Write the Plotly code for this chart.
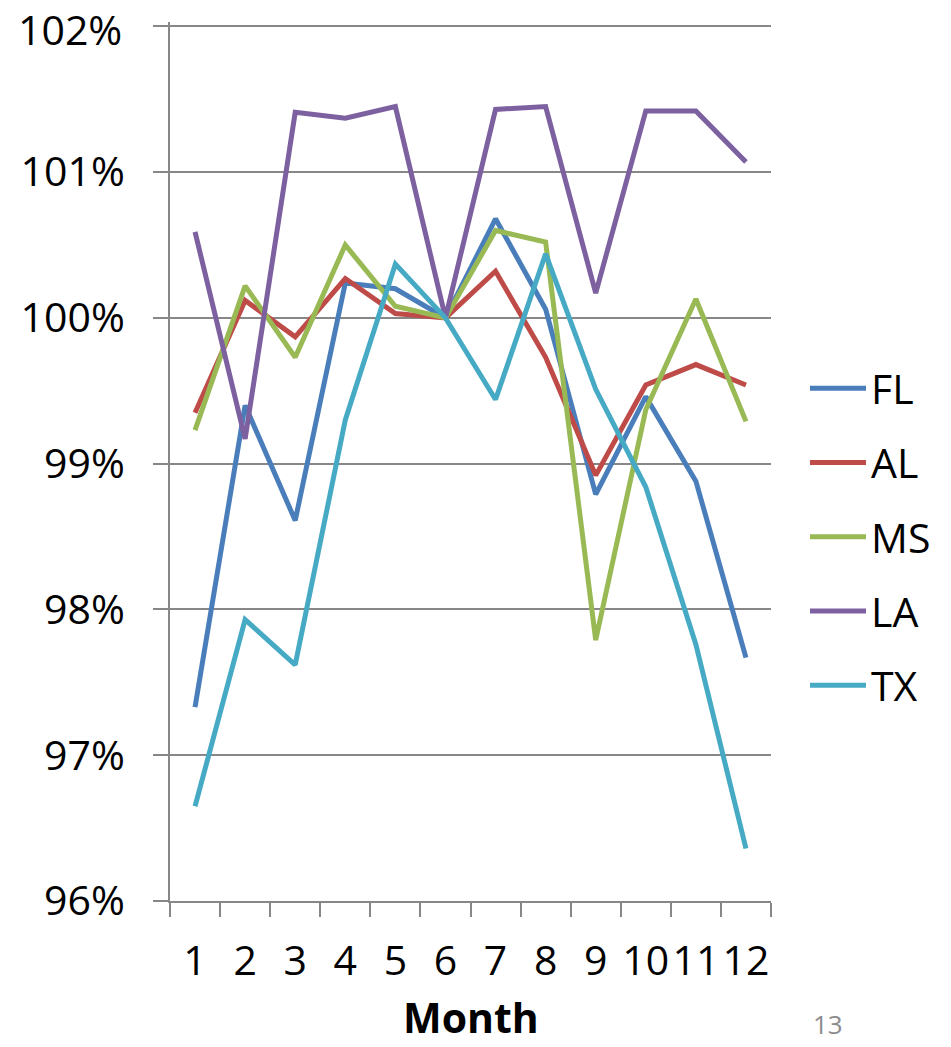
import plotly.graph_objects as go

months = ["1", "2", "3", "4", "5", "6", "7", "8", "9", "10", "11", "12"]
FL = [97.33, 99.40, 98.61, 100.24, 100.20, 100.00, 100.68, 100.06, 98.79, 99.46, 98.88, 97.67]
AL = [99.35, 100.12, 99.87, 100.27, 100.03, 100.00, 100.32, 99.73, 98.92, 99.54, 99.68, 99.54]
MS = [99.23, 100.22, 99.73, 100.50, 100.08, 100.00, 100.60, 100.52, 97.79, 99.37, 100.13, 99.29]
LA = [100.59, 99.17, 101.41, 101.37, 101.45, 100.00, 101.43, 101.45, 100.17, 101.42, 101.42, 101.07]
TX = [96.65, 97.93, 97.62, 99.30, 100.37, 100.00, 99.44, 100.44, 99.51, 98.84, 97.76, 96.36]
y_ticks = [96, 97, 98, 99, 100, 101, 102]
y_labels = ["96%", "97%", "98%", "99%", "100%", "101%", "102%"]

series = [("FL", FL, "#4A7EBB"), ("AL", AL, "#BE4B48"), ("MS", MS, "#98B954"),
          ("LA", LA, "#7D60A0"), ("TX", TX, "#46AAC5")]

FONT = "Open Sans"
GRID = "#878787"

W, H = 951, 1047
pad = 0.03
# target plot area in page pixels: x 170..771, y(102%)=26.7, y(96%)=900.5
px_per = (900.5 - 26.7) / 6
L = 170
R = W - 771
T = int(round(26.7 - pad * px_per))
B = int(round(H - 900.5))
plot_w = W - L - R
plot_h = H - T - B


def px_x(x):
    return (x - L) / plot_w


def px_y(y):
    return (H - B - y) / plot_h


fig = go.Figure()
for name, vals, color in series:
    fig.add_trace(go.Scatter(x=months, y=vals, name=name, mode="lines",
                             legendgroup=name,
                             line=dict(color=color, width=5)))

fig.update_layout(
    width=W, height=H,
    margin=dict(l=L, r=R, t=T, b=B, autoexpand=False),
    paper_bgcolor="white", plot_bgcolor="white",
    font=dict(family=FONT, size=41, color="black"),
    showlegend=True,
    legend=dict(x=px_x(805), xanchor="left",
                y=px_y(537), yanchor="middle",
                font=dict(size=41, family=FONT), itemwidth=56,
                tracegroupgap=18, bgcolor="rgba(0,0,0,0)"),
    xaxis=dict(type="category", range=[-0.5, 11.5], tickson="boundaries",
               ticks="outside", ticklen=14, tickwidth=2, tickcolor=GRID,
               showline=True, linecolor=GRID, linewidth=2,
               showgrid=False, zeroline=False, tickangle=0, automargin=False,
               tickfont=dict(size=41, family=FONT), ticklabelstandoff=23,
               ticklabeloverflow="allow"),
    # the top label (102%) is placed as an annotation nudged inside the page
    yaxis=dict(range=[96, 102 + pad], tickvals=y_ticks,
               ticktext=y_labels[:-1] + [""],
               ticks="outside", ticklen=15, tickwidth=2, tickcolor=GRID,
               showline=True, linecolor=GRID, linewidth=2, automargin=False,
               showgrid=True, gridcolor=GRID, gridwidth=2, zeroline=False,
               ticklabeloverflow="allow",
               tickfont=dict(size=41, family=FONT), ticklabelstandoff=20),
    annotations=[
        dict(text=y_labels[-1], x=px_x(124), y=px_y(29), xref="paper", yref="paper",
             showarrow=False, xanchor="right", yanchor="middle",
             font=dict(size=41, family=FONT, color="black")),
        dict(text="<b>Month</b>", x=px_x(470.5), y=px_y(1017), xref="paper", yref="paper",
             showarrow=False, xanchor="center", yanchor="middle",
             font=dict(size=41, family=FONT, color="black")),
        dict(text="13", x=px_x(828), y=px_y(1024),
             xref="paper", yref="paper", showarrow=False,
             xanchor="center", yanchor="middle",
             font=dict(size=26, color="#8C8C8C", family=FONT)),
    ],
)

fig.write_html("out.html", config={"displayModeBar": False},
               post_script="document.body.style.margin='0';"
                           "document.body.style.overflow='hidden';")
